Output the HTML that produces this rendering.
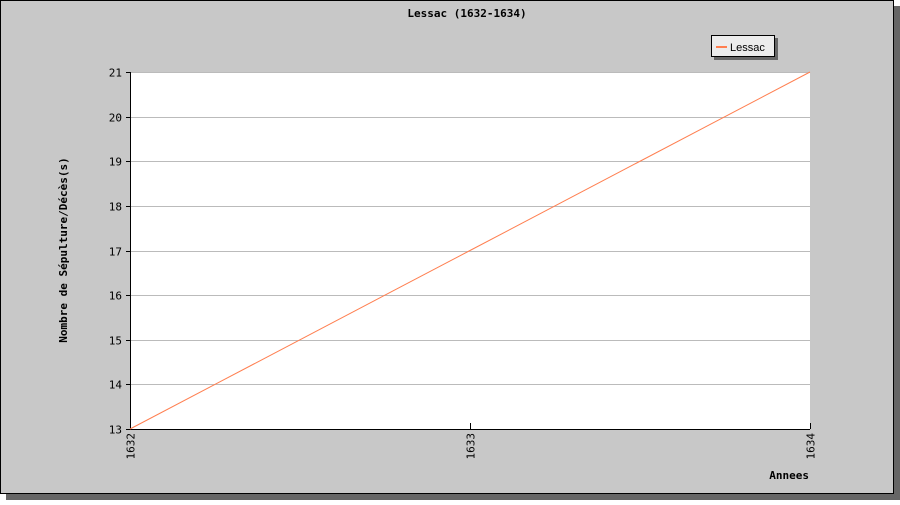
<!DOCTYPE html>
<html><head><meta charset="utf-8"><style>
body{margin:0;background:#fff}
svg text{font-family:"DejaVu Sans Mono","Liberation Mono",monospace}
</style></head><body>
<svg width="900" height="500">
<rect x="6" y="6" width="894" height="494" fill="#666"/>
<rect x="0.5" y="0.5" width="893" height="493" fill="#c8c8c8" stroke="#000"/>
<text x="467" y="17" font-size="11" font-weight="bold" text-anchor="middle">Lessac (1632-1634)</text>
<rect x="130" y="72" width="680" height="357" fill="#fff"/>
<g id="grid"></g>
<g id="axes"></g>
<polyline id="line" fill="none" stroke="#ff7f50" stroke-width="1"/>
<text transform="translate(67,250) rotate(-90)" font-size="11" font-weight="bold" text-anchor="middle">Nombre de Sépulture/Décès(s)</text>
<text x="809" y="479" font-size="11" font-weight="bold" text-anchor="end">Annees</text>
<g>
<rect x="714" y="38" width="64" height="22" fill="#666"/>
<rect x="711.5" y="35.5" width="63" height="21" fill="#ececec" stroke="#000"/>
<line x1="716" y1="47" x2="727" y2="47" stroke="#ff7f50" stroke-width="2"/>
<text x="730" y="51" font-size="11" font-family="Liberation Sans" style="font-family:'Liberation Sans',sans-serif">Lessac</text>
</g>
</svg>
<script>
const categories=["1632","1633","1634"];
const values=[13,17,21];
const yTicks=[13,14,15,16,17,18,19,20,21];
const X0=130,X1=810,Y0=429,Y1=72,ymin=13,ymax=21;
const NS="http://www.w3.org/2000/svg";
const xs=i=>X0+(X1-X0)*i/(categories.length-1);
const ys=v=>Y0-(Y0-Y1)*(v-ymin)/(ymax-ymin);
const grid=document.getElementById('grid'),axes=document.getElementById('axes');
function mk(tag,at,parent){const e=document.createElementNS(NS,tag);for(const k in at)e.setAttribute(k,at[k]);parent.appendChild(e);return e;}
yTicks.forEach(t=>{const y=Math.round(ys(t))+0.5;
 if(t>ymin){const g=mk('line',{x1:X0,x2:X1,y1:y,y2:y,stroke:'#bbb'},grid);
 
 }
 const tk=mk('line',{x1:X0-4,x2:X0,y1:y,y2:y,stroke:'#000'},axes);
 
 
 const tx=mk('text',{x:X0-8,y:y+4,'font-size':11,'text-anchor':'end'},axes);tx.textContent=t;
 
 });
categories.forEach((c,i)=>{const x=Math.round(xs(i))+0.5;
 const tk=mk('line',{x1:x,x2:x,y1:Y0-6,y2:Y0,stroke:'#000'},axes);
 
 
 const tx=mk('text',{transform:`translate(${x+4},${Y0+4}) rotate(-90)`,'font-size':11,'text-anchor':'end'},axes);tx.textContent=c;
 
 });
const ax=mk('path',{d:`M${X0+0.5},${Y1} V${Y0+0.5} H${X1}`,fill:'none',stroke:'#000'},axes);


document.getElementById('line').setAttribute('points',values.map((v,i)=>xs(i)+','+ys(v)).join(' '));
</script>
</body></html>
